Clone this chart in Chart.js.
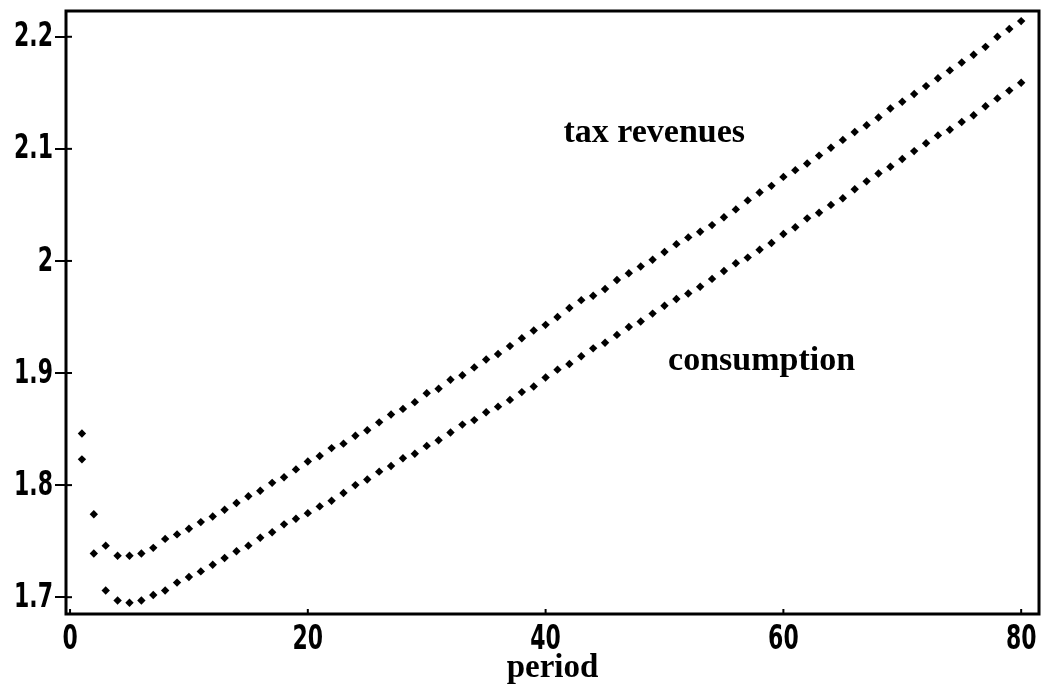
<!DOCTYPE html>
<html>
<head>
<meta charset="utf-8">
<script src="https://cdn.jsdelivr.net/npm/chart.js@4.4.1/dist/chart.umd.min.js"></script>
<style>
  html, body { margin: 0; padding: 0; background: #fff; }
  #wrap { width: 1045px; height: 694px; position: relative; }
</style>
</head>
<body>
<div id="wrap"><canvas id="c"></canvas></div>
<script>
const periods = [1,2,3,4,5,6,7,8,9,10,11,12,13,14,15,16,17,18,19,20,
  21,22,23,24,25,26,27,28,29,30,31,32,33,34,35,36,37,38,39,40,
  41,42,43,44,45,46,47,48,49,50,51,52,53,54,55,56,57,58,59,60,
  61,62,63,64,65,66,67,68,69,70,71,72,73,74,75,76,77,78,79,80];

const taxRevenues = [1.846,1.774,1.746,1.737,1.737,1.739,1.744,1.752,1.756,1.761,
  1.767,1.772,1.778,1.784,1.790,1.795,1.802,1.807,1.814,1.821,
  1.826,1.833,1.837,1.844,1.849,1.856,1.863,1.868,1.874,1.882,
  1.886,1.894,1.898,1.905,1.912,1.917,1.924,1.931,1.938,1.943,
  1.950,1.958,1.965,1.969,1.975,1.983,1.989,1.995,2.001,2.008,
  2.015,2.021,2.026,2.032,2.039,2.046,2.054,2.061,2.067,2.075,
  2.081,2.087,2.094,2.101,2.108,2.115,2.121,2.128,2.136,2.142,
  2.149,2.156,2.163,2.170,2.177,2.184,2.191,2.200,2.207,2.214];

const consumption = [1.823,1.739,1.706,1.697,1.695,1.697,1.702,1.706,1.713,1.718,
  1.723,1.729,1.735,1.741,1.746,1.753,1.758,1.765,1.770,1.775,
  1.781,1.786,1.793,1.800,1.805,1.812,1.817,1.824,1.828,1.835,
  1.840,1.847,1.854,1.858,1.865,1.870,1.876,1.883,1.888,1.896,
  1.903,1.908,1.915,1.922,1.927,1.934,1.941,1.946,1.953,1.960,
  1.966,1.971,1.977,1.984,1.991,1.998,2.003,2.010,2.016,2.024,
  2.030,2.038,2.043,2.050,2.056,2.064,2.071,2.078,2.084,2.091,
  2.098,2.105,2.112,2.117,2.124,2.130,2.138,2.145,2.152,2.159];

const xTicks = [0, 20, 40, 60, 80];
const xTickLabels = ['0', '20', '40', '60', '80'];
const yTicks = [1.7, 1.8, 1.9, 2, 2.1, 2.2];
const yTickLabels = ['1.7', '1.8', '1.9', '2', '2.1', '2.2'];
const xTitle = 'period';

// in-plot text labels (anchored in data coordinates)
const labelTexts = ['tax revenues', 'consumption'];
const labelX = [41.5, 50.3];
const labelY = [2.106, 1.903];

const tickFontCss = "bold 33px 'DejaVu Sans Condensed', 'DejaVu Sans', sans-serif";
const serifFont = "bold 34px 'Liberation Serif', 'Times New Roman', serif";

function drawNarrow(ctx, text, x, y, align) {
  const sx = 0.74;
  ctx.save();
  ctx.translate(x, y);
  ctx.scale(sx, 1);
  ctx.textAlign = align;
  ctx.textBaseline = 'middle';
  ctx.fillText(text, 0, 0);
  ctx.restore();
}

const frameAndLabels = {
  id: 'frameAndLabels',
  afterDraw(chart) {
    const { ctx, chartArea: a, scales } = chart;
    ctx.save();
    ctx.strokeStyle = '#000';
    ctx.lineWidth = 3;
    ctx.strokeRect(a.left, a.top, a.right - a.left, a.bottom - a.top);
    ctx.lineWidth = 2;
    yTicks.forEach(v => {
      const y = scales.y.getPixelForValue(v);
      ctx.beginPath(); ctx.moveTo(a.left, y); ctx.lineTo(a.left + 6, y); ctx.stroke();
    });
    xTicks.forEach(v => {
      const x = scales.x.getPixelForValue(v);
      ctx.beginPath(); ctx.moveTo(x, a.bottom); ctx.lineTo(x, a.bottom - 5); ctx.stroke();
    });
    ctx.fillStyle = '#000';
    ctx.font = tickFontCss;
    yTicks.forEach((v, i) => drawNarrow(ctx, yTickLabels[i], a.left - 13, scales.y.getPixelForValue(v) + 1, 'right'));
    xTicks.forEach((v, i) => drawNarrow(ctx, xTickLabels[i], scales.x.getPixelForValue(v), a.bottom + 26, 'center'));
    ctx.font = serifFont;
    ctx.textAlign = 'left';
    ctx.textBaseline = 'alphabetic';
    labelTexts.forEach((t, i) => {
      ctx.fillText(t, scales.x.getPixelForValue(labelX[i]), scales.y.getPixelForValue(labelY[i]));
    });
    ctx.restore();
  }
};

const mkData = (vals) => periods.map((p, i) => ({ x: p, y: vals[i] }));

new Chart(document.getElementById('c'), {
  type: 'scatter',
  data: {
    datasets: [
      { label: 'tax revenues', data: mkData(taxRevenues), pointStyle: 'rectRot', pointRadius: 4.2,
        backgroundColor: '#000', borderColor: '#000', borderWidth: 0 },
      { label: 'consumption', data: mkData(consumption), pointStyle: 'rectRot', pointRadius: 4.2,
        backgroundColor: '#000', borderColor: '#000', borderWidth: 0 }
    ]
  },
  options: {
    responsive: true,
    maintainAspectRatio: false,
    animation: false,
    events: [],
    layout: { padding: { top: 11, right: 6, left: 0, bottom: 0 } },
    plugins: { legend: { display: false }, tooltip: { enabled: false } },
    scales: {
      x: {
        type: 'linear',
        min: -0.34, max: 81.5,
        afterBuildTicks: (s) => { s.ticks = xTicks.map(v => ({ value: v })); },
        afterFit: (s) => { s.height = 80; s.paddingLeft = 0; s.paddingRight = 0; },
        grid: { display: false },
        border: { display: false },
        ticks: { display: false },
        title: { display: true, text: xTitle, color: '#000', padding: { top: 0, bottom: 6 },
          font: { family: "'Liberation Serif', 'Times New Roman', serif", weight: 'bold', size: 33 } }
      },
      y: {
        type: 'linear',
        min: 1.685, max: 2.223,
        afterBuildTicks: (s) => { s.ticks = yTicks.map(v => ({ value: v })); },
        afterFit: (s) => { s.width = 66; s.paddingTop = 0; s.paddingBottom = 0; },
        grid: { display: true, drawOnChartArea: false, drawTicks: true, tickLength: 11, color: '#000', lineWidth: 2 },
        border: { display: false },
        ticks: { display: false }
      }
    }
  },
  plugins: [frameAndLabels]
});
</script>
</body>
</html>
